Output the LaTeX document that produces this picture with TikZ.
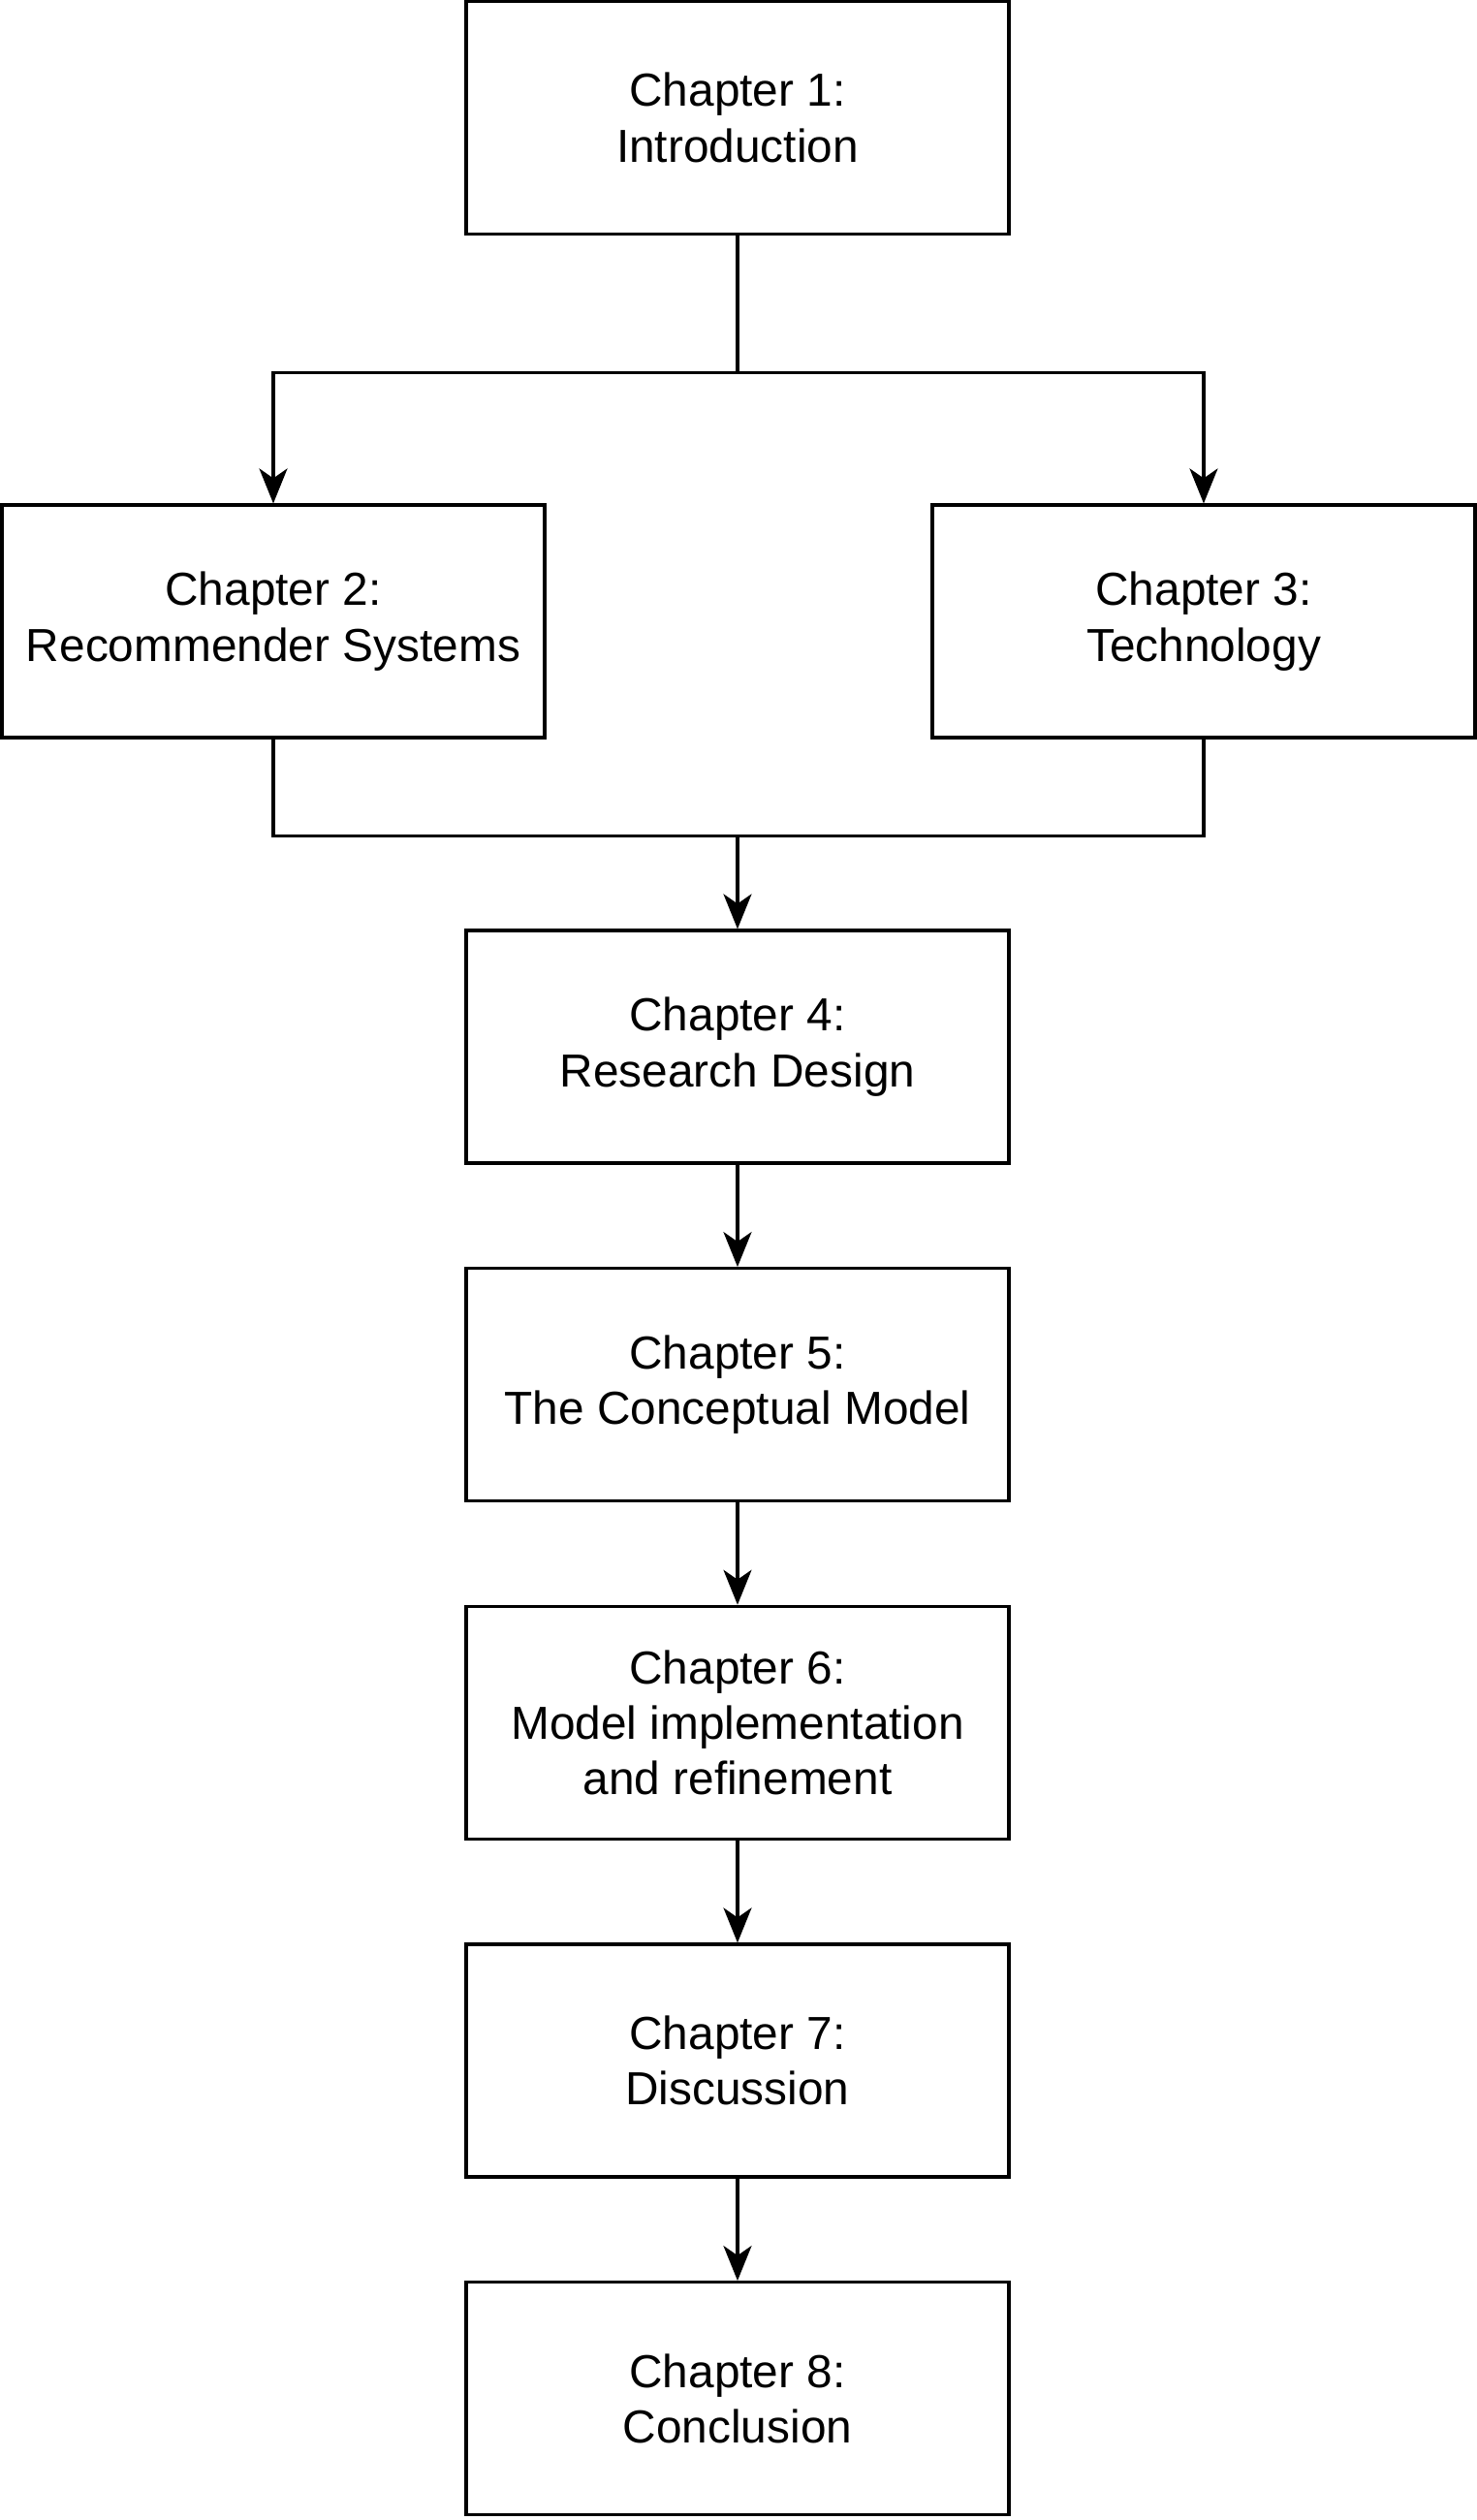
\documentclass[tikz,border=0pt]{standalone}
\usepackage{fontspec}
\setmainfont{Liberation Sans}
\usepackage{tikz}
\usetikzlibrary{positioning, arrows.meta}

\begin{document}
\begin{tikzpicture}[font=\fontsize{13.6}{16.3}\selectfont,
  >={Stealth[length=3.6mm, width=2.9mm, inset=1mm]}, line width=0.9pt,
  chbox/.style={draw, align=center, minimum width=5.6cm, minimum height=2.4cm,
               inner sep=0pt}]
  \useasboundingbox (0,0) rectangle (15.24,-26);
  \node[chbox] (ch1) at (7.61,-1.215) {Chapter 1:\\ Introduction};
  \node[chbox] (ch2) at (2.82,-6.41)  {Chapter 2:\\ Recommender Systems};
  \node[chbox] (ch3) at (12.42,-6.41) {Chapter 3:\\ Technology};
  \node[chbox] (ch4) at (7.61,-10.8)  {Chapter 4:\\ Research Design};
  \node[chbox, below=1.055cm of ch4] (ch5) {Chapter 5:\\ The Conceptual Model};
  \node[chbox, below=1.055cm of ch5] (ch6) {Chapter 6:\\ Model implementation\\ and refinement};
  \node[chbox, below=1.055cm of ch6] (ch7) {Chapter 7:\\ Discussion};
  \node[chbox, below=1.055cm of ch7] (ch8) {Chapter 8:\\ Conclusion};
  % split below chapter 1
  \path (ch1.south) ++(0,-1.41) coordinate (split);
  \draw (ch1.south) -- (split);
  \draw[->] (split) -| (ch2.north);
  \draw[->] (split) -| (ch3.north);
  % merge into chapter 4
  \path (ch2.south -| ch4.north) ++(0,-1) coordinate (merge);
  \draw (ch2.south) |- (merge) -| (ch3.south);
  \draw[->] (merge) -- (ch4);
  \foreach \a/\b in {ch4/ch5,ch5/ch6,ch6/ch7,ch7/ch8}
     \draw[->] (\a) -- (\b);
\end{tikzpicture}
\end{document}
